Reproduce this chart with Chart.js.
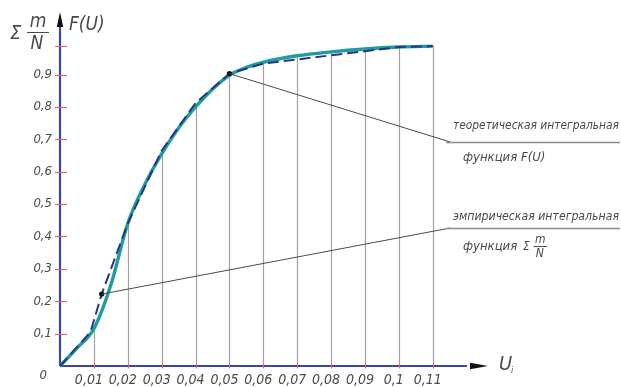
<!DOCTYPE html>
<html lang="ru">
<head>
<meta charset="utf-8">
<script src="https://cdn.jsdelivr.net/npm/chart.js@4/dist/chart.umd.min.js"></script>
<style>
  html, body { margin: 0; padding: 0; background: #ffffff; }
  #wrap { width: 621px; height: 387px; }
</style>
</head>
<body>
<div id="wrap"><canvas id="c" width="621" height="387"></canvas></div>
<script>
// Theoretical integral distribution function F(U)
const uTheory = [0, 0.005, 0.01, 0.015, 0.02, 0.025, 0.03, 0.035, 0.04, 0.045, 0.05, 0.055, 0.06, 0.07, 0.08, 0.09, 0.1, 0.11];
const fTheory = [0, 0.055, 0.115, 0.25, 0.44, 0.56, 0.655, 0.735, 0.80, 0.855, 0.898, 0.922, 0.938, 0.958, 0.970, 0.979, 0.985, 0.988];

// Empirical integral function Σ m/N
const uEmpiric = [0, 0.009, 0.0123, 0.02, 0.03, 0.04, 0.05, 0.06, 0.1, 0.11];
const fEmpiric = [0, 0.105, 0.222, 0.44, 0.665, 0.812, 0.903, 0.934, 0.985, 0.988];

// Axis ticks and labels
const xTicks = [0.01, 0.02, 0.03, 0.04, 0.05, 0.06, 0.07, 0.08, 0.09, 0.1, 0.11];
const xTickLabels = ['0,01', '0,02', '0,03', '0,04', '0,05', '0,06', '0,07', '0,08', '0,09', '0,1', '0,11'];
const yTicks = [0.1, 0.2, 0.3, 0.4, 0.5, 0.6, 0.7, 0.8, 0.9, 0.988];
const yTickLabels = ['0,1', '0,2', '0,3', '0,4', '0,5', '0,6', '0,7', '0,8', '0,9', ''];

// Callout anchors (data units): [point index in empirical series, label end x, label end y]
const calloutTheory = { from: 6, toX: 0.1151, toY: 0.692 };
const calloutEmpiric = { from: 2, toX: 0.1151, toY: 0.426 };

const FONT = '"Liberation Sans Narrow", "DejaVu Sans Condensed", "Liberation Sans", sans-serif';
const TEXT = '#4a4a4a';
const AXIS = '#3b46a6';
const TICK = '#e06a6a';

const toXY = (us, fs) => us.map((u, i) => ({ x: u, y: fs[i] }));

function italic(ctx, size) {
  ctx.font = 'italic ' + size + 'px ' + FONT;
}

// Fraction "m over N" preceded by a sigma sign
function drawSigmaFraction(ctx, x, y, big) {
  const s = big ? 1 : 0.62;
  ctx.save();
  ctx.fillStyle = TEXT;
  ctx.strokeStyle = TEXT;
  ctx.textBaseline = 'middle';
  ctx.textAlign = 'left';
  italic(ctx, Math.round(20 * s));
  ctx.fillText('Σ', x, y + 2 * s);
  const fx = x + 17 * s;
  italic(ctx, Math.round(19 * s));
  ctx.textAlign = 'center';
  ctx.fillText('m', fx + 11 * s, y - 10 * s);
  ctx.fillText('N', fx + 10 * s, y + 12 * s);
  ctx.lineWidth = 1;
  ctx.beginPath();
  ctx.moveTo(fx + 0 * s, y + 0.5);
  ctx.lineTo(fx + 22 * s, y + 0.5);
  ctx.stroke();
  ctx.restore();
}

const drawingPlugin = {
  id: 'drawing',
  beforeDatasetsDraw(chart) {
    const { ctx, scales: { x, y } } = chart;
    const x0 = x.getPixelForValue(0);
    const y0 = y.getPixelForValue(0);
    ctx.save();

    // vertical lines from the axis up to the theoretical curve
    ctx.strokeStyle = '#a2a2a2';
    ctx.lineWidth = 1.2;
    xTicks.forEach(t => {
      const i = uTheory.findIndex(u => Math.abs(u - t) < 1e-9);
      const px = Math.round(x.getPixelForValue(t)) + 0.5;
      ctx.beginPath();
      ctx.moveTo(px, y0);
      ctx.lineTo(px, y.getPixelForValue(fTheory[i]));
      ctx.stroke();
    });

    // axes
    ctx.strokeStyle = AXIS;
    ctx.lineWidth = 2.2;
    ctx.beginPath();
    ctx.moveTo(x0, y0);
    ctx.lineTo(x0, chart.chartArea.top + 1);
    ctx.moveTo(x0, y0);
    ctx.lineTo(chart.chartArea.right - 3, y0);
    ctx.stroke();

    // arrow heads
    ctx.fillStyle = '#111111';
    ctx.beginPath();
    ctx.moveTo(x0, chart.chartArea.top - 14);
    ctx.lineTo(x0 - 3.2, chart.chartArea.top + 1);
    ctx.lineTo(x0 + 3.2, chart.chartArea.top + 1);
    ctx.closePath();
    ctx.fill();
    const ar = chart.chartArea.right;
    ctx.beginPath();
    ctx.moveTo(ar + 18, y0);
    ctx.lineTo(ar, y0 - 3.2);
    ctx.lineTo(ar, y0 + 3.2);
    ctx.closePath();
    ctx.fill();

    // tick marks
    ctx.strokeStyle = TICK;
    ctx.lineWidth = 1.2;
    yTicks.forEach(t => {
      const py = Math.round(y.getPixelForValue(t)) + 0.5;
      ctx.beginPath();
      ctx.moveTo(x0 - 5, py);
      ctx.lineTo(x0 + 7, py);
      ctx.stroke();
    });
    xTicks.forEach(t => {
      const px = Math.round(x.getPixelForValue(t)) + 0.5;
      ctx.beginPath();
      ctx.moveTo(px, y0 - 2.5);
      ctx.lineTo(px, y0 + 2.5);
      ctx.stroke();
    });

    // tick labels
    ctx.fillStyle = TEXT;
    ctx.textBaseline = 'middle';
    italic(ctx, 13);
    ctx.textAlign = 'right';
    yTicks.forEach((t, i) => {
      if (yTickLabels[i]) ctx.fillText(yTickLabels[i], x0 - 8, y.getPixelForValue(t));
    });
    ctx.fillText('0', x0 - 13, y0 + 10);
    italic(ctx, 14);
    ctx.textAlign = 'center';
    xTicks.forEach((t, i) => {
      ctx.fillText(xTickLabels[i], x.getPixelForValue(t) - 5, y0 + 14);
    });
    ctx.restore();
  },
  afterDatasetsDraw(chart) {
    const { ctx, scales: { x, y } } = chart;
    const x0 = x.getPixelForValue(0);
    const y0 = y.getPixelForValue(0);
    ctx.save();

    // callout leader lines and shelves
    [calloutTheory, calloutEmpiric].forEach(c => {
      const fx = x.getPixelForValue(uEmpiric[c.from]);
      const fy = y.getPixelForValue(fEmpiric[c.from]);
      const tx = x.getPixelForValue(c.toX);
      const ty = y.getPixelForValue(c.toY);
      ctx.strokeStyle = '#4a4a4a';
      ctx.lineWidth = 1;
      ctx.beginPath();
      ctx.moveTo(fx, fy);
      ctx.lineTo(tx, ty);
      ctx.stroke();
      ctx.strokeStyle = '#8c8c8c';
      ctx.lineWidth = 1.4;
      ctx.beginPath();
      ctx.moveTo(tx - 4, Math.round(ty) + 0.5);
      ctx.lineTo(chart.width - 1, Math.round(ty) + 0.5);
      ctx.stroke();
    });

    // callout texts
    ctx.fillStyle = TEXT;
    ctx.textAlign = 'left';
    ctx.textBaseline = 'middle';
    italic(ctx, 13);
    const tyT = y.getPixelForValue(calloutTheory.toY);
    const tyE = y.getPixelForValue(calloutEmpiric.toY);
    ctx.fillText('теоретическая интегральная', 453, tyT - 16, 166);
    ctx.fillText('функция F(U)', 463, tyT + 16);
    ctx.fillText('эмпирическая интегральная', 453, tyE - 11, 166);
    ctx.fillText('функция', 463, tyE + 19);
    drawSigmaFraction(ctx, 523, tyE + 18, false);

    // axis titles
    italic(ctx, 19);
    ctx.fillText('F(U)', x0 + 9, 25);
    drawSigmaFraction(ctx, 10, 32, true);
    italic(ctx, 20);
    ctx.fillText('U', 499, y0 - 1);
    italic(ctx, 9);
    ctx.fillText('i', 511, y0 + 5);
    ctx.restore();
  }
};

new Chart(document.getElementById('c'), {
  type: 'scatter',
  data: {
    datasets: [
      {
        label: 'эмпирическая интегральная функция',
        data: toXY(uEmpiric, fEmpiric),
        showLine: true,
        borderColor: '#27358a',
        borderWidth: 2,
        borderDash: [11, 5],
        tension: 0,
        pointRadius: uEmpiric.map((u, i) => (i === calloutTheory.from || i === calloutEmpiric.from) ? 2.6 : 0),
        pointBackgroundColor: '#111111',
        pointBorderWidth: 0,
        order: 0,
        clip: false
      },
      {
        label: 'теоретическая интегральная функция',
        data: toXY(uTheory, fTheory),
        showLine: true,
        borderColor: '#1f9c9c',
        borderWidth: 3.4,
        cubicInterpolationMode: 'monotone',
        pointRadius: 0,
        order: 1,
        clip: false
      }
    ]
  },
  options: {
    responsive: false,
    animation: false,
    events: [],
    layout: { padding: { left: 60, right: 151, top: 26, bottom: 21 } },
    scales: {
      x: { type: 'linear', min: 0, max: 0.121, display: false },
      y: { type: 'linear', min: 0, max: 1.05, display: false }
    },
    plugins: { legend: { display: false }, tooltip: { enabled: false } }
  },
  plugins: [drawingPlugin]
});
</script>
</body>
</html>
